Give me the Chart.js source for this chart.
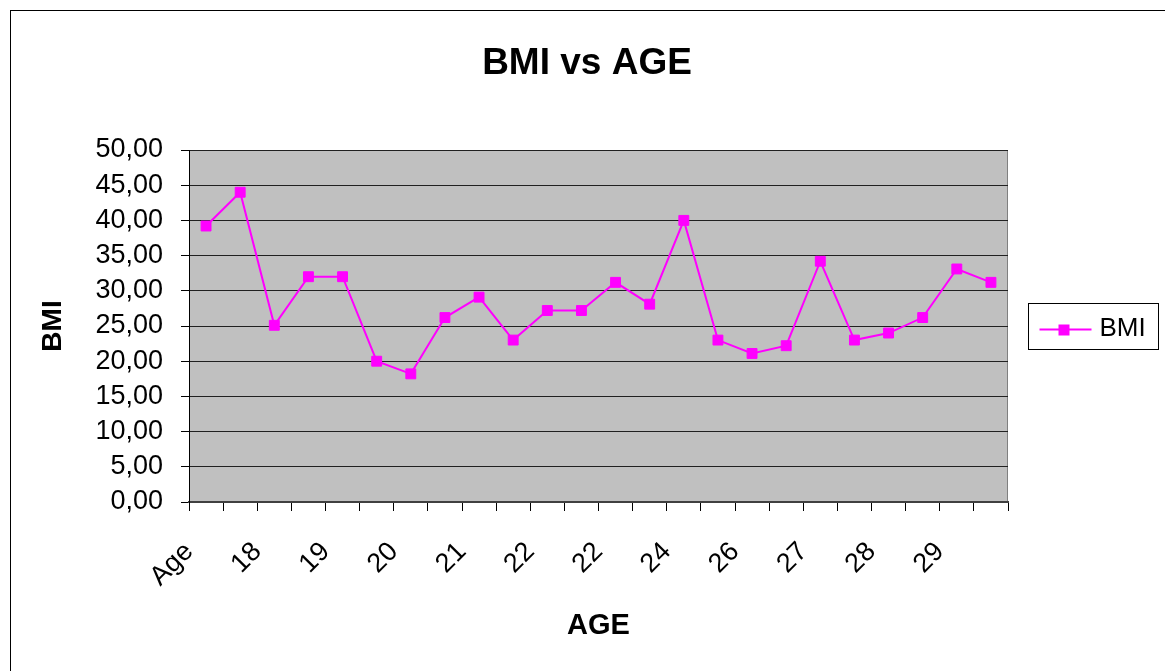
<!DOCTYPE html>
<html>
<head>
<meta charset="utf-8">
<title>BMI vs AGE</title>
<script src="https://cdn.jsdelivr.net/npm/chart.js@4/dist/chart.umd.min.js"></script>
<style>
  html, body { margin: 0; padding: 0; background: #ffffff; }
  #wrap { position: relative; width: 1165px; height: 671px; }
</style>
</head>
<body>
<div id="wrap"><canvas id="chart" width="1165" height="671"></canvas></div>
<script>
// Age labels shown under every second category
const ageTickLabels = ['Age', '18', '19', '20', '21', '22', '22', '24', '26', '27', '28', '29'];

// BMI per subject (24 subjects)
const bmiValues = [
  39.2, 44.0, 25.1, 32.0, 32.0, 20.0, 18.2, 26.2, 29.1, 23.0, 27.2, 27.2,
  31.2, 28.1, 40.0, 23.0, 21.1, 22.2, 34.2, 23.0, 24.0, 26.2, 33.1, 31.2
];

// Y axis range
const yMin = 0;
const yMax = 50;
const yStep = 5;

const chartTitle = 'BMI vs AGE';

// Category list: a label on every even slot, blank in between
const categories = bmiValues.map((v, i) => (i % 2 === 0 ? ageTickLabels[i / 2] : ''));

const FONT = "'Liberation Sans', Arial, sans-serif";
const MAGENTA = '#FF00FF';

// Grey plot background, plot border and the outer chart frame
const plotBackground = {
  id: 'plotBackground',
  beforeDraw(chart) {
    const { ctx, chartArea: a } = chart;
    ctx.save();
    ctx.fillStyle = '#ffffff';
    ctx.fillRect(0, 0, chart.width, chart.height);
    ctx.strokeStyle = '#000000';
    ctx.lineWidth = 1;
    ctx.strokeRect(10.5, 10.5, chart.width + 20, chart.height + 20);
    ctx.fillStyle = '#C0C0C0';
    ctx.fillRect(a.left, a.top, a.right - a.left, a.bottom - a.top);
    ctx.strokeStyle = '#808080';
    ctx.strokeRect(a.left + 0.5, a.top + 0.5, a.right - a.left - 1, a.bottom - a.top);
    ctx.restore();
  }
};

// Chart title centred across the whole frame (plot + legend)
const frameTitle = {
  id: 'frameTitle',
  afterDraw(chart) {
    const { ctx } = chart;
    ctx.save();
    ctx.fillStyle = '#000000';
    ctx.font = 'bold 37px ' + FONT;
    ctx.textAlign = 'center';
    ctx.textBaseline = 'alphabetic';
    ctx.fillText(chartTitle, 587, 74);
    ctx.restore();
  }
};

// Boxed legend to the right of the plot
const boxedLegend = {
  id: 'boxedLegend',
  afterDraw(chart) {
    const { ctx } = chart;
    const ds = chart.data.datasets[0];
    const box = { x: 1028.5, y: 303.5, w: 130, h: 46 };
    const midY = box.y + box.h / 2 + 3;
    ctx.save();
    ctx.strokeStyle = '#000000';
    ctx.lineWidth = 1;
    ctx.strokeRect(box.x, box.y, box.w, box.h);
    ctx.strokeStyle = ds.borderColor;
    ctx.lineWidth = ds.borderWidth;
    ctx.beginPath();
    ctx.moveTo(box.x + 11, midY);
    ctx.lineTo(box.x + 63, midY);
    ctx.stroke();
    ctx.fillStyle = ds.pointBackgroundColor;
    ctx.fillRect(box.x + 30, midY - 5, 11, 11);
    ctx.fillStyle = '#000000';
    ctx.font = '26px ' + FONT;
    ctx.textAlign = 'left';
    ctx.textBaseline = 'middle';
    ctx.fillText(ds.label, box.x + 71, midY - 1);
    ctx.restore();
  }
};

new Chart(document.getElementById('chart'), {
  type: 'line',
  data: {
    labels: categories,
    datasets: [{
      label: 'BMI',
      data: bmiValues,
      borderColor: MAGENTA,
      backgroundColor: MAGENTA,
      borderWidth: 2,
      tension: 0,
      pointStyle: 'rect',
      pointRadius: 7,
      pointHoverRadius: 7,
      pointBackgroundColor: MAGENTA,
      pointBorderColor: MAGENTA,
      pointBorderWidth: 1
    }]
  },
  options: {
    responsive: false,
    animation: false,
    events: [],
    layout: { padding: { left: 10, right: 157, top: 150, bottom: 0 } },
    plugins: {
      legend: { display: false },
      tooltip: { enabled: false },
      title: { display: false }
    },
    scales: {
      x: {
        offset: true,
        afterFit(scale) { scale.height = 169; },
        grid: {
          display: true,
          offset: true,
          drawOnChartArea: false,
          drawTicks: true,
          tickLength: 9,
          tickColor: '#000000'
        },
        border: { display: true, color: '#404040', width: 2 },
        ticks: {
          autoSkip: false,
          maxRotation: 45,
          minRotation: 45,
          labelOffset: -17,
          padding: 25,
          color: '#000000',
          font: { family: FONT, size: 27 }
        },
        title: {
          display: true,
          text: 'AGE',
          color: '#000000',
          font: { family: FONT, size: 29, weight: 'bold' },
          padding: { top: 0, bottom: 28 }
        }
      },
      y: {
        min: yMin,
        max: yMax,
        afterFit(scale) { scale.width = 179; },
        grid: {
          display: true,
          color: '#202020',
          lineWidth: 1,
          drawTicks: true,
          tickLength: 8,
          tickColor: '#000000'
        },
        border: { display: true, color: '#000000', width: 1 },
        ticks: {
          stepSize: yStep,
          autoSkip: false,
          maxTicksLimit: 20,
          padding: 18,
          color: '#000000',
          font: { family: FONT, size: 27, lineHeight: 1 },
          callback: (v) => v.toFixed(2).replace('.', ',')
        },
        title: {
          display: true,
          text: 'BMI',
          color: '#000000',
          font: { family: FONT, size: 28, weight: 'bold' },
          padding: { top: 26, bottom: 0 }
        }
      }
    }
  },
  plugins: [plotBackground, frameTitle, boxedLegend]
});
</script>
</body>
</html>
